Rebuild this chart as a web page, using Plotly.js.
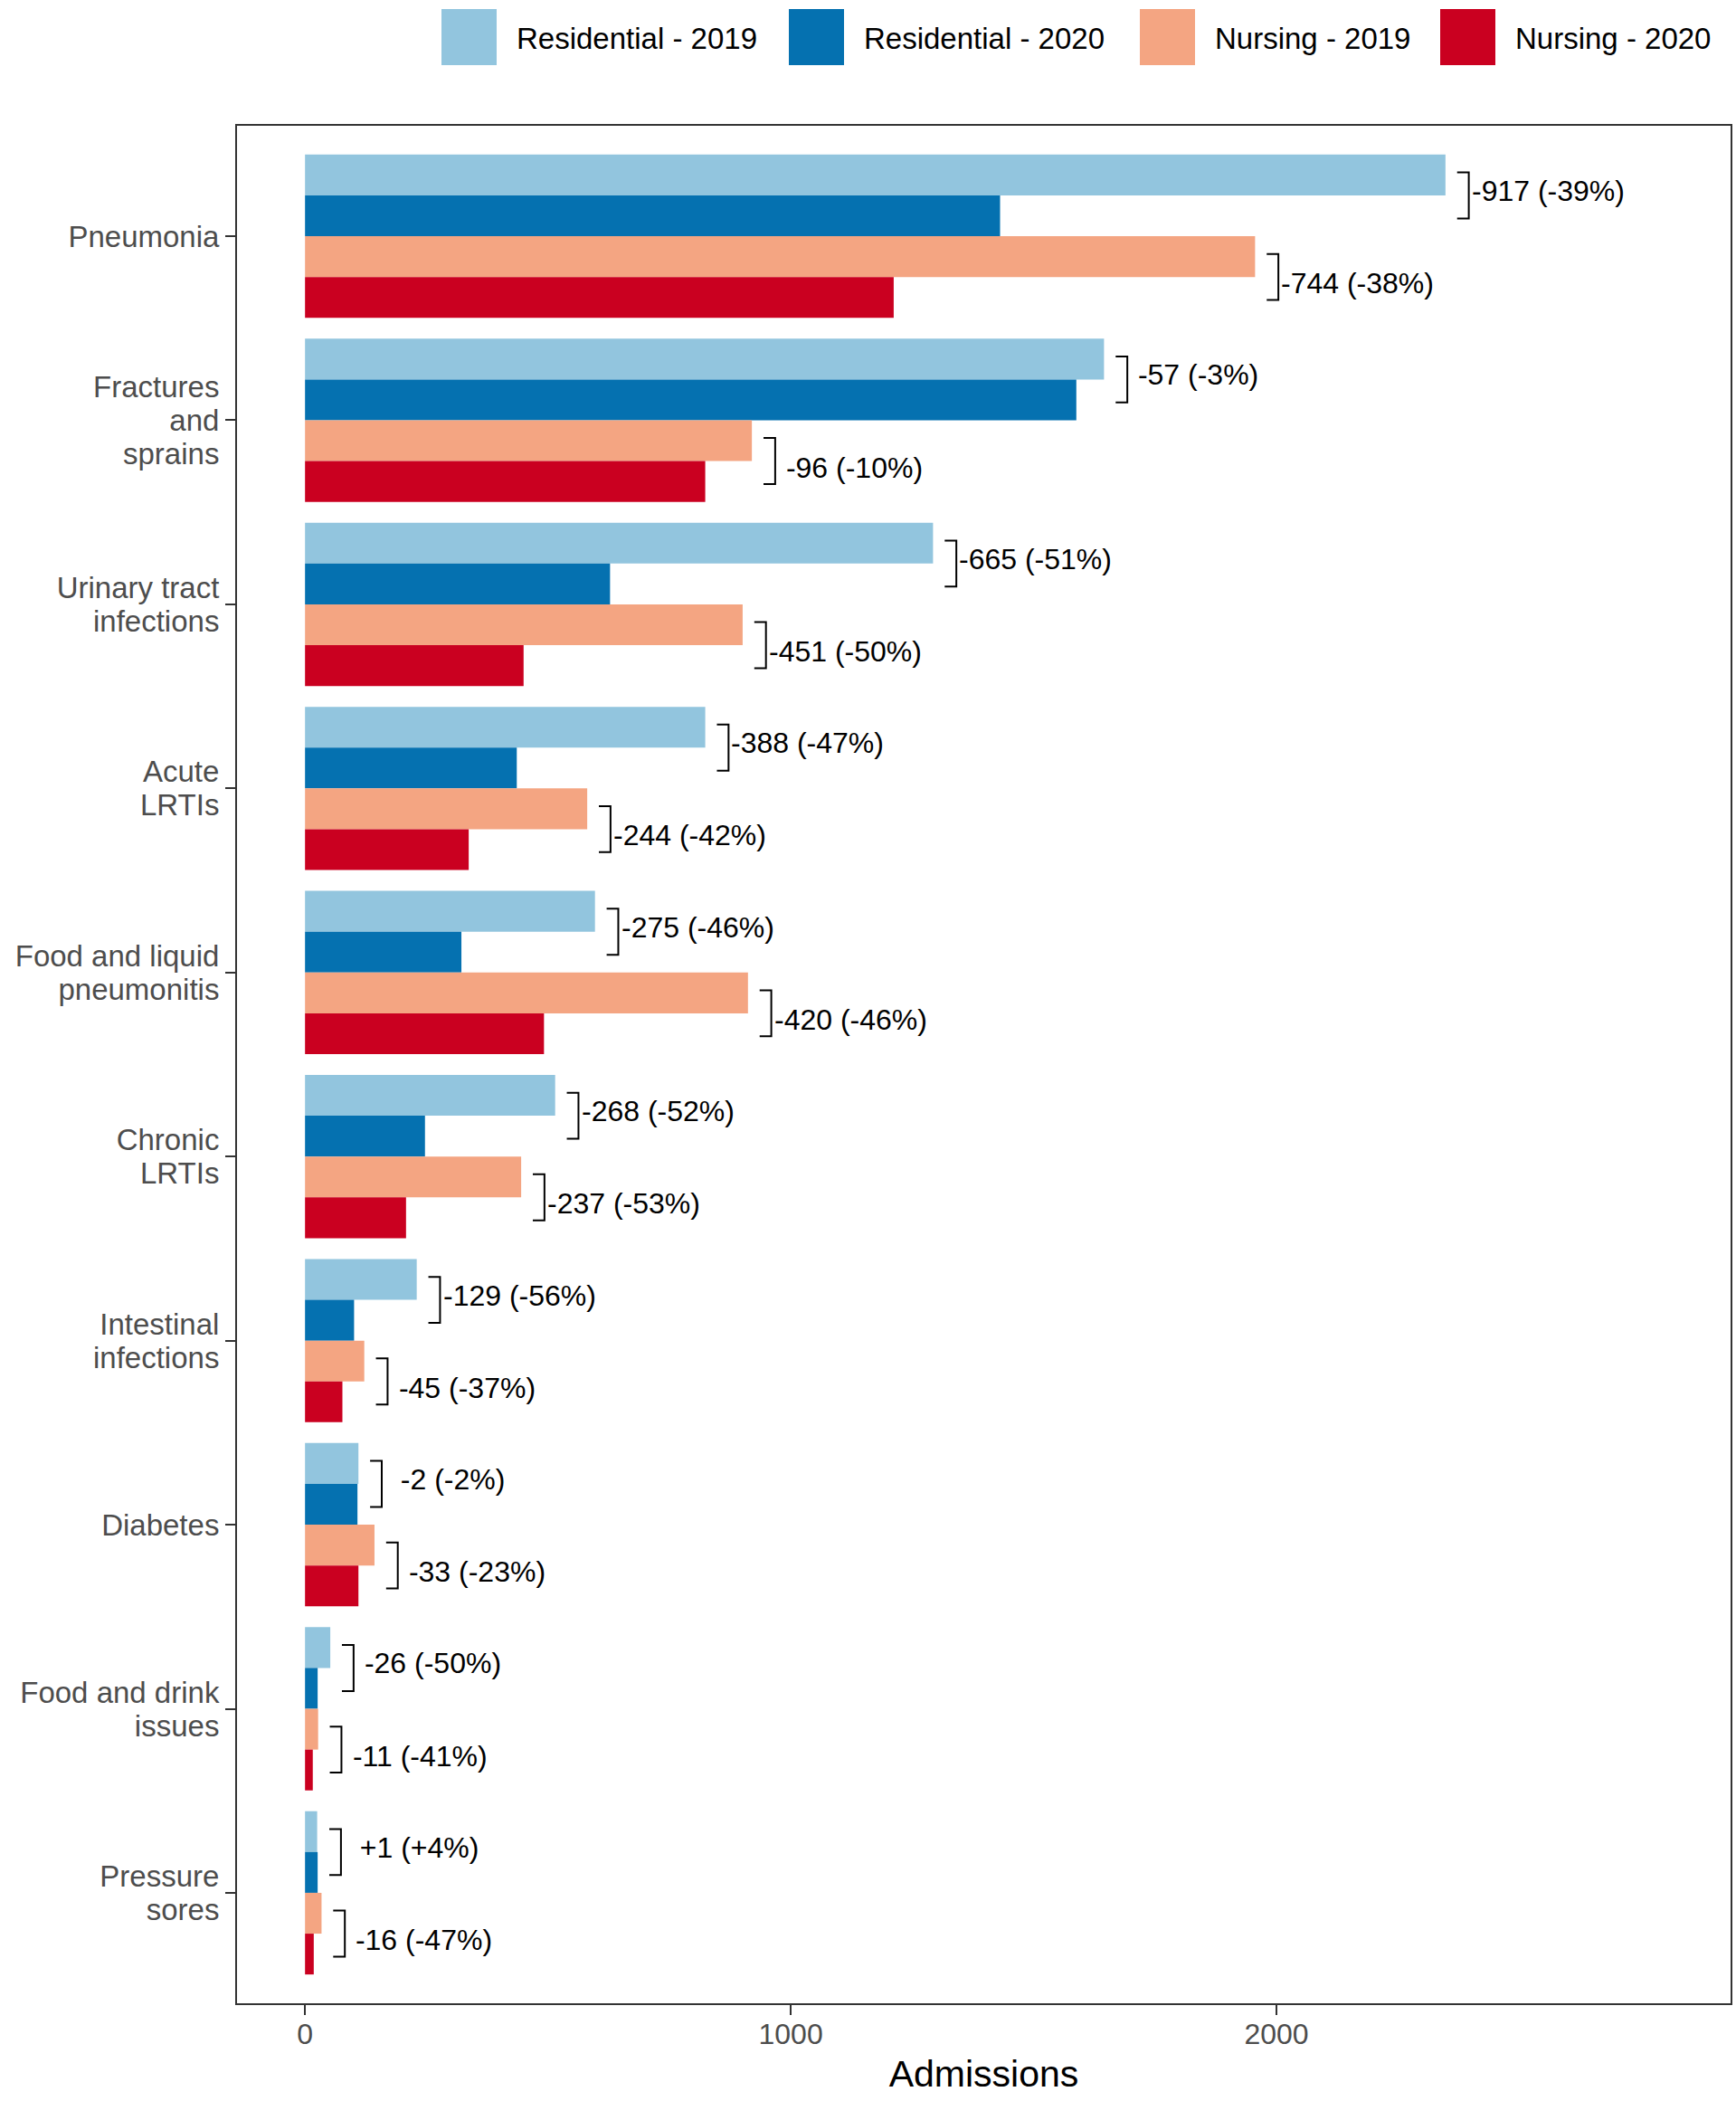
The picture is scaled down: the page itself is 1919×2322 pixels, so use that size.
<!DOCTYPE html>
<html>
<head>
<meta charset="utf-8">
<script src="https://cdn.plot.ly/plotly-3.0.1.min.js"></script>
<style>
  html, body { margin: 0; padding: 0; background: #fff; }
  #chart { width: 1919px; height: 2322px; }
</style>
</head>
<body>
<div id="chart"></div>
<script>
// categories, top to bottom
var categories = ['Pneumonia', 'Fractures<br>and<br>sprains', 'Urinary tract<br>infections',
  'Acute<br>LRTIs', 'Food and liquid<br>pneumonitis', 'Chronic<br>LRTIs',
  'Intestinal<br>infections', 'Diabetes', 'Food and drink<br>issues', 'Pressure<br>sores'];

var seriesNames = ['Residential - 2019', 'Residential - 2020', 'Nursing - 2019', 'Nursing - 2020'];
var seriesColors = ['#92c5de', '#0571b0', '#f4a582', '#ca0020'];

// admissions
var resid2019 = [2348, 1645, 1293, 824, 597, 515, 230, 110, 52, 25];
var resid2020 = [1431, 1588, 628, 436, 322, 247, 101, 108, 26, 26];
var nurs2019  = [1956, 920, 901, 581, 912, 445, 122, 143, 27, 34];
var nurs2020  = [1212, 824, 450, 337, 492, 208, 77, 110, 16, 18];

// change labels as printed on the chart
var residChange = ['-917 (-39%)', '-57 (-3%)', '-665 (-51%)', '-388 (-47%)', '-275 (-46%)',
  '-268 (-52%)', '-129 (-56%)', '-2 (-2%)', '-26 (-50%)', '+1 (+4%)'];
var nursChange = ['-744 (-38%)', '-96 (-10%)', '-451 (-50%)', '-244 (-42%)', '-420 (-46%)',
  '-237 (-53%)', '-45 (-37%)', '-33 (-23%)', '-11 (-41%)', '-16 (-47%)'];

var W = 1919, H = 2322;
var M = {l: 262, r: 6, t: 139, b: 108};
var FONT = 'Liberation Sans, Arial, sans-serif';

function px(x) { return (x - M.l) / (W - M.l - M.r); }
function py(y) { return (H - M.b - y) / (H - M.t - M.b); }

var yIdx = categories.map(function(c, i) { return i; });
var series = [resid2019, resid2020, nurs2019, nurs2020];

var data = series.map(function(vals, k) {
  return {
    type: 'bar',
    orientation: 'h',
    name: seriesNames[k],
    x: vals,
    y: yIdx,
    marker: {color: seriesColors[k], line: {width: 0}},
    hoverinfo: 'x+name'
  };
});

// pad the first token to 4 chars, like sprintf("%4s")
function pad(label) {
  var first = label.split(' ')[0];
  var n = Math.max(0, 4 - first.length);
  return '\u00a0'.repeat(n) + label;
}

var shapes = [];
var annotations = [];
var half = 0.2215;   // offset of a pair centre from the category centre
var span = 0.125;    // half height of a bracket

function bracket(yc, a, b, label, shift) {
  var xm = Math.max(a, b);
  var x0 = xm + 24, x1 = xm + 48;
  shapes.push({
    type: 'path', xref: 'x', yref: 'y',
    path: 'M' + x0 + ',' + (yc - span) + ' H' + x1 + ' V' + (yc + span) + ' H' + x0,
    line: {color: '#000', width: 2}
  });
  annotations.push({
    x: xm + 50, y: yc, xref: 'x', yref: 'y',
    text: pad(label), showarrow: false,
    xanchor: 'left', yanchor: 'middle', yshift: shift,
    font: {family: FONT, size: 32, color: '#000'}
  });
}

categories.forEach(function(c, i) {
  bracket(i - half, resid2019[i], resid2020[i], residChange[i], 5);
  bracket(i + half, nurs2019[i], nurs2020[i], nursChange[i], -7);
});

// legend drawn by hand so the swatches are big like the original
var legendLeft = [488, 872, 1260, 1592];
seriesNames.forEach(function(name, k) {
  shapes.push({
    type: 'rect', xref: 'paper', yref: 'paper',
    x0: px(legendLeft[k]), x1: px(legendLeft[k] + 61),
    y0: py(72), y1: py(10),
    fillcolor: seriesColors[k], line: {width: 0}
  });
  annotations.push({
    xref: 'paper', yref: 'paper',
    x: px(legendLeft[k] + 81), y: py(42),
    text: name, showarrow: false,
    xanchor: 'left', yanchor: 'middle',
    font: {family: FONT, size: 33, color: '#000'}
  });
});

var layout = {
  width: W,
  height: H,
  margin: M,
  paper_bgcolor: '#fff',
  plot_bgcolor: '#fff',
  showlegend: false,
  barmode: 'group',
  bargap: 0.113,
  bargroupgap: 0,
  font: {family: FONT, color: '#4d4d4d'},
  xaxis: {
    range: [-140, 2935],
    tickvals: [0, 1000, 2000],
    showgrid: false,
    zeroline: false,
    showline: true,
    mirror: true,
    linecolor: '#333',
    linewidth: 2,
    ticks: 'outside',
    ticklen: 11,
    tickwidth: 2,
    tickcolor: '#333',
    ticklabelstandoff: -6,
    tickfont: {family: FONT, size: 32, color: '#4d4d4d'},
    title: {text: 'Admissions', font: {family: FONT, size: 41, color: '#000'}, standoff: 12}
  },
  yaxis: {
    range: [9.6, -0.6],
    tickvals: yIdx,
    ticktext: categories,
    showgrid: false,
    zeroline: false,
    showline: true,
    mirror: true,
    linecolor: '#333',
    linewidth: 2,
    ticks: 'outside',
    ticklen: 11,
    tickwidth: 2,
    tickcolor: '#333',
    tickfont: {family: FONT, size: 33, color: '#4d4d4d'}
  },
  shapes: shapes,
  annotations: annotations
};

// tighter line spacing for the multi-line category labels
function tightenLabels() {
  var LS = 1.3, NEW = 1.12;
  document.querySelectorAll('#chart .ytick text').forEach(function(t) {
    var lines = t.querySelectorAll('tspan.line');
    var n = lines.length;
    if (n < 2) return;
    lines.forEach(function(ln) {
      var k = parseFloat(ln.getAttribute('dy')) / LS || 0;
      ln.setAttribute('dy', (k * NEW + (n - 1) * (LS - NEW) / 2) + 'em');
    });
  });
}

Plotly.newPlot('chart', data, layout, {displayModeBar: false, responsive: false})
  .then(tightenLabels);
</script>
</body>
</html>
